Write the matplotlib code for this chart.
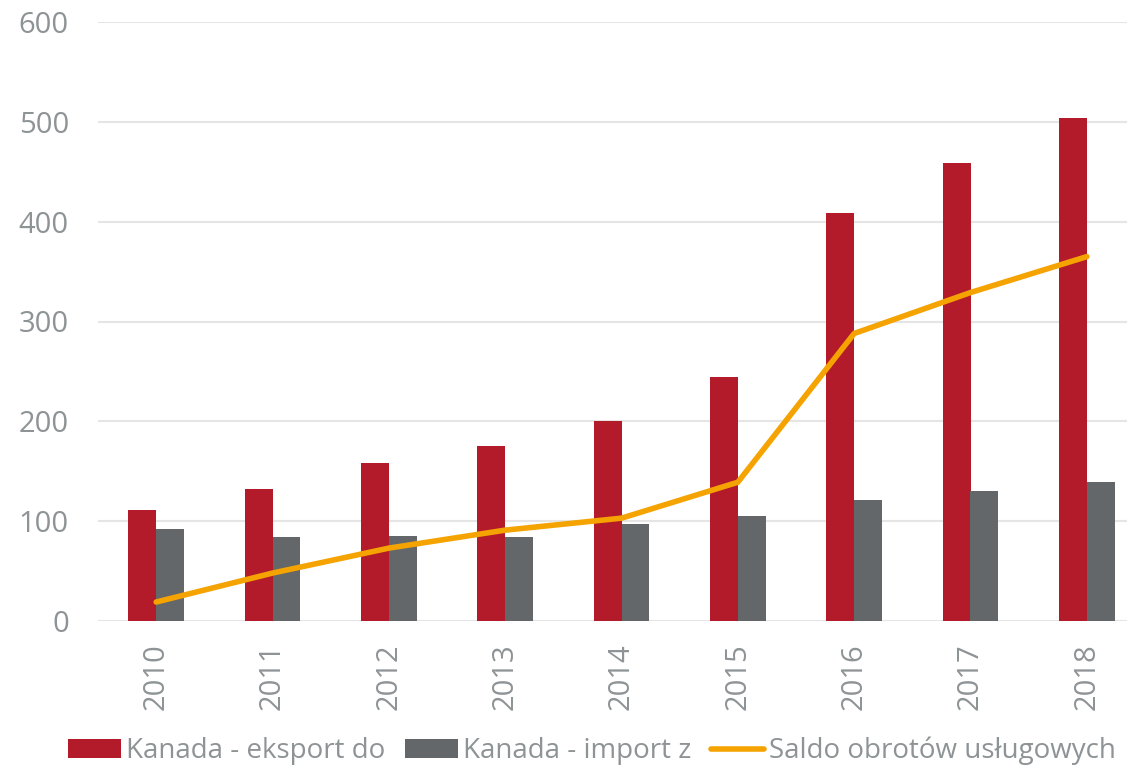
import matplotlib.pyplot as plt
import numpy as np

plt.rcParams['font.family'] = ['Open Sans', 'DejaVu Sans']

years = ['2010', '2011', '2012', '2013', '2014', '2015', '2016', '2017', '2018']
eksport = [111, 132, 158, 175, 200, 244, 409, 459, 504]
import_z = [92, 84, 85, 84, 97, 105, 121, 130, 139]
saldo = [19, 48, 73, 91, 103, 139, 288, 329, 365]

red = '#B31B2B'
grey = '#636769'
orange = '#F5A300'
text_grey = '#8E9396'

fig = plt.figure(figsize=(11.27, 7.65), dpi=100)
ax = fig.add_axes([98 / 1127, 1 - 621 / 765, 1047 / 1127, 599 / 765])

x = np.arange(len(years))
w = 0.24
b1 = ax.bar(x - w / 2, eksport, width=w, color=red, label='Kanada - eksport do', zorder=2)
b2 = ax.bar(x + w / 2, import_z, width=w, color=grey, label='Kanada - import z', zorder=2)
l1, = ax.plot(x, saldo, color=orange, linewidth=4, solid_capstyle='round',
              label='Saldo obrotów usługowych', zorder=3)

ax.set_xlim(-0.5, len(years) - 0.5)
ax.set_ylim(0, 600)
ax.set_yticks(range(0, 601, 100))
ax.set_xticks(x)
ax.set_xticklabels(years, rotation=90)
ax.grid(axis='y', color='#E5E5E5', linewidth=1.5, zorder=0)
for s in ax.spines.values():
    s.set_visible(False)
ax.tick_params(axis='both', length=0, labelsize=21, colors=text_grey)
ax.tick_params(axis='y', pad=21)
ax.tick_params(axis='x', pad=16)

fig.legend([b1, b2, l1], [b1.get_label(), b2.get_label(), l1.get_label()],
           loc='lower center', bbox_to_anchor=(592 / 1127, -0.033), ncol=3,
           frameon=False, fontsize=20, labelcolor=text_grey,
           handlelength=1.9, handleheight=0.65, handletextpad=0.2,
           columnspacing=0.7)

fig.savefig('out.png', dpi=100)
